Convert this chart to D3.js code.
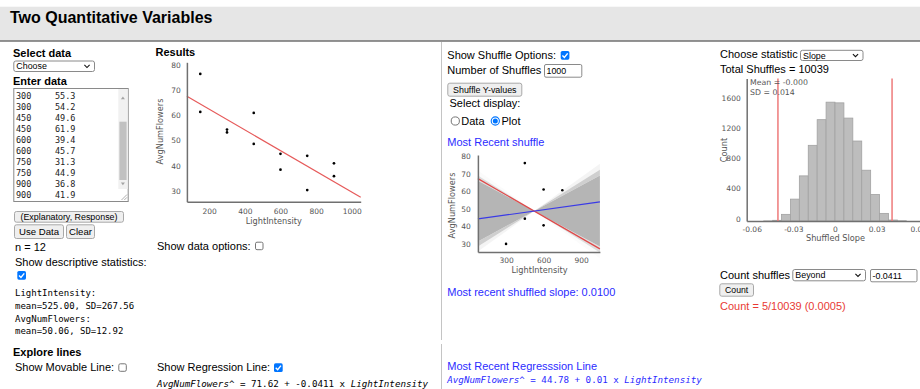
<!DOCTYPE html>
<html>
<head>
<meta charset="utf-8">
<script src="https://cdn.jsdelivr.net/npm/d3@7"></script>
<style>
  html, body { margin: 0; padding: 0; background: #fff; overflow: hidden; }
  svg { display: block; }
  text { white-space: pre; }
</style>
</head>
<body>
<div id="app"></div>
<script>
// ---- data ----
const lightIntensity = [150, 150, 300, 300, 450, 450, 600, 600, 750, 750, 900, 900];
const avgNumFlowers  = [62.3, 77.4, 55.3, 54.2, 49.6, 61.9, 39.4, 45.7, 31.3, 44.9, 36.8, 41.9];
// response values after the most recent shuffle (same x order)
const shuffledFlowers = [54.2, 36.8, 31.3, 44.9, 77.4, 45.7, 62.3, 41.9, 61.9, 49.6, 55.3, 39.4];

const fitIntercept = 71.62, fitSlope = -0.0411;
const shuffleIntercept = 44.78, shuffleSlope = 0.01;

// shuffled-slope histogram: bin k covers [k*w, (k+1)*w)
const slopeBinWidth = 0.00642;
const slopeBinFirst = -10;
const slopeCounts = [0, 0, 1, 9, 88, 290, 598, 1003, 1343, 1575, 1566, 1364, 1060, 673, 352, 101, 13, 3, 0, 0];
const beyondCount = 5;

const xTicksMain = [200, 400, 600, 800, 1000];
const yTicksFlowers = [30, 40, 50, 60, 70, 80];
const xTicksMini = [300, 600, 900];
const histXTicks = [-0.06, -0.03, 0, 0.03, 0.06];
const histYTicks = [0, 400, 800, 1200, 1600];

// ---- fonts / colours ----
const SANS = '"Liberation Sans", Arial, sans-serif';
const MONO = '"DejaVu Sans Mono", "Liberation Mono", monospace';
const PLOT = '"DejaVu Sans", Verdana, sans-serif';
const BLUE = '#2b2bff', RED = '#e83a34', CTRL = '#8a8a8a', CHECK = '#0075ff';
const plain = (d) => String(d);

const svg = d3.select('#app').append('svg').attr('width', 920).attr('height', 389);

function label(g, x, y, str, o = {}) {
  return g.append('text').attr('x', x).attr('y', y)
    .attr('font-family', o.family || SANS)
    .attr('font-size', o.size || 11)
    .attr('font-weight', o.weight || 'normal')
    .attr('font-style', o.italic ? 'italic' : 'normal')
    .attr('fill', o.fill || '#000')
    .attr('text-anchor', o.anchor || 'start')
    .text(str);
}
function checkbox(x, y, s, checked) {
  const g = svg.append('g').attr('transform', `translate(${x},${y})`);
  if (checked) {
    g.append('rect').attr('width', s).attr('height', s).attr('rx', 1.6).attr('fill', CHECK);
    g.append('path').attr('d', `M${s*0.2},${s*0.52}L${s*0.42},${s*0.74}L${s*0.8},${s*0.27}`)
      .attr('fill', 'none').attr('stroke', '#fff').attr('stroke-width', 1.4);
  } else {
    g.append('rect').attr('x', 0.5).attr('y', 0.5).attr('width', s - 1).attr('height', s - 1).attr('rx', 1.5)
      .attr('fill', '#fff').attr('stroke', '#767676').attr('stroke-width', 1);
  }
}
function selectBox(x, y, w, h, str) {
  const g = svg.append('g');
  g.append('rect').attr('x', x + 0.5).attr('y', y + 0.5).attr('width', w - 1).attr('height', h - 1).attr('rx', 2)
    .attr('fill', '#fff').attr('stroke', CTRL);
  label(g, x + 3, y + h / 2 + 3.2, str, { size: 8.9 });
  const cx = x + w - 8, cy = y + h / 2;
  g.append('path').attr('d', `M${cx - 2.6},${cy - 1.3}L${cx},${cy + 1.3}L${cx + 2.6},${cy - 1.3}`)
    .attr('fill', 'none').attr('stroke', '#111').attr('stroke-width', 1.1);
}
function button(x, y, w, h, str, size = 8.9) {
  const g = svg.append('g');
  g.append('rect').attr('x', x + 0.5).attr('y', y + 0.5).attr('width', w - 1).attr('height', h - 1).attr('rx', 2)
    .attr('fill', '#efefef').attr('stroke', '#a8a8a8');
  label(g, x + w / 2, y + h / 2 + size * 0.36, str, { size, anchor: 'middle' });
}
function inputBox(x, y, w, h, str) {
  const g = svg.append('g');
  g.append('rect').attr('x', x + 0.5).attr('y', y + 0.5).attr('width', w - 1).attr('height', h - 1).attr('rx', 1.5)
    .attr('fill', '#fff').attr('stroke', CTRL);
  label(g, x + 2.5, y + h / 2 + 3.2, str, { size: 8.9 });
}
function radio(cx, cy, checked) {
  if (checked) {
    svg.append('circle').attr('cx', cx).attr('cy', cy).attr('r', 4.1).attr('fill', '#fff').attr('stroke', CHECK).attr('stroke-width', 1.1);
    svg.append('circle').attr('cx', cx).attr('cy', cy).attr('r', 2.5).attr('fill', CHECK);
  } else {
    svg.append('circle').attr('cx', cx).attr('cy', cy).attr('r', 4.1).attr('fill', '#fff').attr('stroke', '#767676').attr('stroke-width', 1);
  }
}
function styleAxis(g, padY) {
  g.select('.domain').attr('stroke', '#707070').attr('stroke-width', 1.5);
  g.selectAll('.tick line').remove();
  g.selectAll('.tick text').attr('fill', '#555').attr('font-family', PLOT).attr('font-size', 7.5).attr('dy', 0);
  if (padY !== undefined) g.selectAll('.tick text').attr('y', padY);
}

// ---- page header ----
svg.append('rect').attr('x', 0).attr('y', 6.7).attr('width', 920).attr('height', 34.3).attr('fill', '#e6e6e6');
svg.append('line').attr('x1', 0).attr('x2', 920).attr('y1', 41).attr('y2', 41).attr('stroke', '#707070').attr('stroke-width', 1.3);
label(svg, 10, 23.3, 'Two Quantitative Variables', { size: 16, weight: 'bold' });

// column divider
svg.append('line').attr('x1', 441.5).attr('x2', 441.5).attr('y1', 42).attr('y2', 340).attr('stroke', '#c4c4c4');
svg.append('line').attr('x1', 441.5).attr('x2', 441.5).attr('y1', 344).attr('y2', 389).attr('stroke', '#c4c4c4');

// ---- left column: data entry ----
label(svg, 13, 56.5, 'Select data', { weight: 'bold' });
selectBox(13.3, 60.5, 81.7, 11.5, 'Choose');
label(svg, 13, 85.2, 'Enter data', { weight: 'bold' });

svg.append('rect').attr('x', 13.8).attr('y', 88.5).attr('width', 114.4).attr('height', 113).attr('fill', '#fff').attr('stroke', CTRL);
const rows = lightIntensity.map((x, i) => [x, avgNumFlowers[i]]).slice(2);
rows.forEach((r, i) => {
  label(svg, 16, 98.5 + i * 11.07, String(r[0]), { family: MONO, size: 8.5, fill: '#222' });
  label(svg, 55, 98.5 + i * 11.07, r[1].toFixed(1), { family: MONO, size: 8.5, fill: '#222' });
});
// textarea scrollbar and resize grip
svg.append('rect').attr('x', 118.3).attr('y', 89).attr('width', 9.4).attr('height', 100).attr('fill', '#f1f1f1');
svg.append('path').attr('d', 'M120.9,99.2L122.9,96.6L124.9,99.2Z').attr('fill', '#a3a3a3');
svg.append('rect').attr('x', 119.4).attr('y', 121.7).attr('width', 7.2).attr('height', 58.3).attr('fill', '#c1c1c1');
svg.append('path').attr('d', 'M120.9,182.6L122.9,185.2L124.9,182.6Z').attr('fill', '#a3a3a3');
svg.append('path').attr('d', 'M121.5,200L127,194.5M124.3,200L127,197.3').attr('stroke', '#999').attr('stroke-width', 0.8);

button(14, 211, 110, 11.7, '(Explanatory, Response)');
button(14, 224.3, 50, 14.7, 'Use Data', 9.6);
button(66, 224.3, 29, 14.7, 'Clear', 9.6);

label(svg, 15, 251.2, 'n = ' + lightIntensity.length);
label(svg, 15, 266.2, 'Show descriptive statistics:');
checkbox(17.3, 271, 8.7, true);

const fmt2 = d3.format('.2f');
label(svg, 15, 296, 'LightIntensity:', { family: MONO, size: 9 });
label(svg, 15, 308.6, `mean=${fmt2(d3.mean(lightIntensity))}, SD=${fmt2(d3.deviation(lightIntensity))}`, { family: MONO, size: 9 });
label(svg, 15, 321.6, 'AvgNumFlowers:', { family: MONO, size: 9 });
label(svg, 15, 334.4, `mean=${fmt2(d3.mean(avgNumFlowers))}, SD=${fmt2(d3.deviation(avgNumFlowers))}`, { family: MONO, size: 9 });

label(svg, 13, 356.4, 'Explore lines', { weight: 'bold' });
label(svg, 15, 371.2, 'Show Movable Line:');
checkbox(118.3, 363.3, 8.5, false);

// ---- results scatter plot ----
label(svg, 155.5, 56.3, 'Results', { weight: 'bold' });
const xDomain = [75, 1050];
const yExt = d3.extent(avgNumFlowers), yPad = 0.1 * (yExt[1] - yExt[0]);
const yDomain = [yExt[0] - yPad, yExt[1] + yPad];

const xMain = d3.scaleLinear().domain(xDomain).range([186.9, 360.7]);
const yMain = d3.scaleLinear().domain(yDomain).range([201.7, 62.3]);
const gMain = svg.append('g');
gMain.append('line')
  .attr('x1', xMain(xDomain[0])).attr('y1', yMain(fitIntercept + fitSlope * xDomain[0]))
  .attr('x2', xMain(xDomain[1])).attr('y2', yMain(fitIntercept + fitSlope * xDomain[1]))
  .attr('stroke', '#e65a5a').attr('stroke-width', 1.2);
gMain.selectAll('circle').data(lightIntensity).join('circle')
  .attr('cx', (d) => xMain(d)).attr('cy', (d, i) => yMain(avgNumFlowers[i])).attr('r', 1.35).attr('fill', '#000');
gMain.append('g').attr('transform', `translate(${xMain.range()[0]},0)`)
  .call(d3.axisLeft(yMain).tickValues(yTicksFlowers).tickFormat(plain).tickSize(0).tickSizeOuter(0).tickPadding(6))
  .call((g) => styleAxis(g));
gMain.append('g').attr('transform', `translate(0,${yMain.range()[0]})`)
  .call(d3.axisBottom(xMain).tickValues(xTicksMain).tickFormat(plain).tickSize(0).tickSizeOuter(0))
  .call((g) => styleAxis(g, 12.3));
label(gMain, 273.8, 223.5, 'LightIntensity', { family: PLOT, size: 8.2, fill: '#555', anchor: 'middle' });
label(gMain, 0, 0, 'AvgNumFlowers', { family: PLOT, size: 8.2, fill: '#555', anchor: 'middle' })
  .attr('transform', 'translate(163.4,131.5) rotate(-90)');

label(svg, 157, 250.2, 'Show data options:');
checkbox(255, 241.7, 8.5, false);
label(svg, 157, 371.2, 'Show Regression Line:');
checkbox(274, 363.3, 8.7, true);

function equation(g, x, y, intercept, slope, slopeDigits, fill) {
  const t = g.append('text').attr('x', x).attr('y', y).attr('font-family', MONO).attr('font-size', 9.2).attr('fill', fill);
  t.append('tspan').attr('font-style', 'italic').text('AvgNumFlowers^');
  t.append('tspan').text(` = ${intercept.toFixed(2)} + ${slope.toFixed(slopeDigits)} x `);
  t.append('tspan').attr('font-style', 'italic').text('LightIntensity');
}
equation(svg, 157, 386.6, fitIntercept, fitSlope, 4, '#000');

// ---- middle column: shuffle controls and most recent shuffle ----
label(svg, 447.3, 58.8, 'Show Shuffle Options:');
checkbox(560.7, 51, 8.7, true);
label(svg, 447.3, 74, 'Number of Shuffles');
inputBox(544, 64, 38.3, 13.7, '1000');
button(447.3, 82.7, 75, 14, 'Shuffle Y-values');
label(svg, 449.5, 107.2, 'Select display:');
radio(455.3, 121, false);
label(svg, 461.3, 124.8, 'Data');
radio(495.3, 121, true);
label(svg, 501.5, 124.8, 'Plot');
label(svg, 447.3, 146.2, 'Most Recent shuffle', { fill: BLUE });

const xMini = d3.scaleLinear().domain(xDomain).range([477.9, 599.9]);
const yMini = d3.scaleLinear().domain(yDomain).range([252, 155]);
const gMini = svg.append('g');
gMini.selectAll('circle').data(lightIntensity).join('circle')
  .attr('cx', (d) => xMini(d)).attr('cy', (d, i) => yMini(shuffledFlowers[i])).attr('r', 1.3).attr('fill', '#000');

// fan of shuffled regression lines: every one passes through (mean x, mean y)
const cxMean = d3.mean(lightIntensity), cyMean = d3.mean(avgNumFlowers);
const bins = slopeCounts.map((c, i) => {
  const k = slopeBinFirst + i;
  return { lo: k * slopeBinWidth, hi: (k + 1) * slopeBinWidth, count: c };
});
const fanPath = (lo, hi) => {
  const p = (x, s) => `${xMini(x)},${yMini(cyMean + s * (x - cxMean))}`;
  return `M${p(xDomain[0], lo)}L${p(cxMean, 0)}L${p(xDomain[0], hi)}Z` +
         `M${p(xDomain[1], lo)}L${p(cxMean, 0)}L${p(xDomain[1], hi)}Z`;
};
const DENSE = 20;
const dense = bins.filter((b) => b.count >= DENSE);
gMini.append('path').attr('d', fanPath(dense[0].lo, dense[dense.length - 1].hi)).attr('fill', '#b5b5b5');
gMini.selectAll('path.fringe').data(bins.filter((b) => b.count > 0 && b.count < DENSE)).join('path')
  .attr('class', 'fringe').attr('d', (b) => fanPath(b.lo, b.hi))
  .attr('fill', '#b5b5b5').attr('opacity', (b) => b.count / DENSE);
gMini.append('line')
  .attr('x1', xMini(xDomain[0])).attr('y1', yMini(fitIntercept + fitSlope * xDomain[0]))
  .attr('x2', xMini(xDomain[1])).attr('y2', yMini(fitIntercept + fitSlope * xDomain[1]))
  .attr('stroke', '#e04848').attr('stroke-width', 1.2);
gMini.append('line')
  .attr('x1', xMini(xDomain[0])).attr('y1', yMini(shuffleIntercept + shuffleSlope * xDomain[0]))
  .attr('x2', xMini(xDomain[1])).attr('y2', yMini(shuffleIntercept + shuffleSlope * xDomain[1]))
  .attr('stroke', '#3a3ae6').attr('stroke-width', 1.2);
gMini.append('g').attr('transform', `translate(${xMini.range()[0]},0)`)
  .call(d3.axisLeft(yMini).tickValues(yTicksFlowers).tickFormat(plain).tickSize(0).tickSizeOuter(0).tickPadding(7))
  .call((g) => styleAxis(g));
gMini.append('g').attr('transform', `translate(0,${yMini.range()[0]})`)
  .call(d3.axisBottom(xMini).tickValues(xTicksMini).tickFormat(plain).tickSize(0).tickSizeOuter(0))
  .call((g) => styleAxis(g, 11.3));
label(gMini, 539.5, 273, 'LightIntensity', { family: PLOT, size: 8.2, fill: '#555', anchor: 'middle' });
label(gMini, 0, 0, 'AvgNumFlowers', { family: PLOT, size: 8.2, fill: '#555', anchor: 'middle' })
  .attr('transform', 'translate(454.6,205.5) rotate(-90)');

label(svg, 447.3, 295.5, 'Most recent shuffled slope: ' + shuffleSlope.toFixed(4), { fill: BLUE });
label(svg, 447.3, 370.4, 'Most Recent Regresssion Line', { fill: BLUE });
equation(svg, 447.3, 383.4, shuffleIntercept, shuffleSlope, 2, BLUE);

// ---- right column: shuffled-slope distribution ----
const totalShuffles = d3.sum(slopeCounts);
label(svg, 720, 58, 'Choose statistic');
selectBox(800, 49.8, 63.5, 11.2, 'Slope');
label(svg, 720, 73.2, 'Total Shuffles = ' + totalShuffles);

const xHist = d3.scaleLinear().domain([-0.0636, 0.0636]).range([746.7, 923.3]);
const yHist = d3.scaleLinear().domain([0, 1.2 * d3.max(slopeCounts)]).range([221, 78.4]);
const gHist = svg.append('g');
gHist.selectAll('rect').data(bins).join('rect')
  .attr('x', (b) => xHist(b.lo)).attr('width', (b) => xHist(b.hi) - xHist(b.lo))
  .attr('y', (b) => yHist(b.count)).attr('height', (b) => yHist(0) - yHist(b.count))
  .attr('fill', '#bdbdbd').attr('stroke', '#a2a2a2').attr('stroke-width', 0.8);
gHist.append('g').attr('transform', `translate(${xHist.range()[0]},0)`)
  .call(d3.axisLeft(yHist).tickValues(histYTicks).tickFormat(plain).tickSize(0).tickSizeOuter(0).tickPadding(6))
  .call((g) => styleAxis(g));
gHist.append('g').attr('transform', `translate(0,${yHist.range()[0]})`)
  .call(d3.axisBottom(xHist).tickValues(histXTicks).tickFormat((d) => (d === 0 ? '0' : d.toFixed(2))).tickSize(0).tickSizeOuter(0))
  .call((g) => styleAxis(g, 10.6));
[fitSlope, -fitSlope].forEach((s) => {
  gHist.append('line').attr('x1', xHist(s)).attr('x2', xHist(s)).attr('y1', yHist.range()[1]).attr('y2', yHist(0))
    .attr('stroke', '#ee7676').attr('stroke-width', 1.6).attr('opacity', 0.9);
});
label(gHist, 750, 85, 'Mean = -0.000', { family: PLOT, size: 7.8, fill: '#555' });
label(gHist, 750, 95, 'SD = 0.014', { family: PLOT, size: 7.8, fill: '#555' });
label(gHist, 835.5, 241, 'Shuffled Slope', { family: PLOT, size: 8.2, fill: '#555', anchor: 'middle' });
label(gHist, 0, 0, 'Count', { family: PLOT, size: 8.2, fill: '#555', anchor: 'middle' })
  .attr('transform', 'translate(727.2,150) rotate(-90)');

label(svg, 720, 278.6, 'Count shuffles');
selectBox(792.3, 269, 73.7, 12.3, 'Beyond');
inputBox(870, 269, 47.5, 13.3, String(fitSlope));
button(719.3, 283.3, 34.7, 13.4, 'Count', 8.7);
label(svg, 720, 310.2, `Count = ${beyondCount}/${totalShuffles} (${(beyondCount / totalShuffles).toFixed(4)})`, { fill: RED });
</script>
</body>
</html>
